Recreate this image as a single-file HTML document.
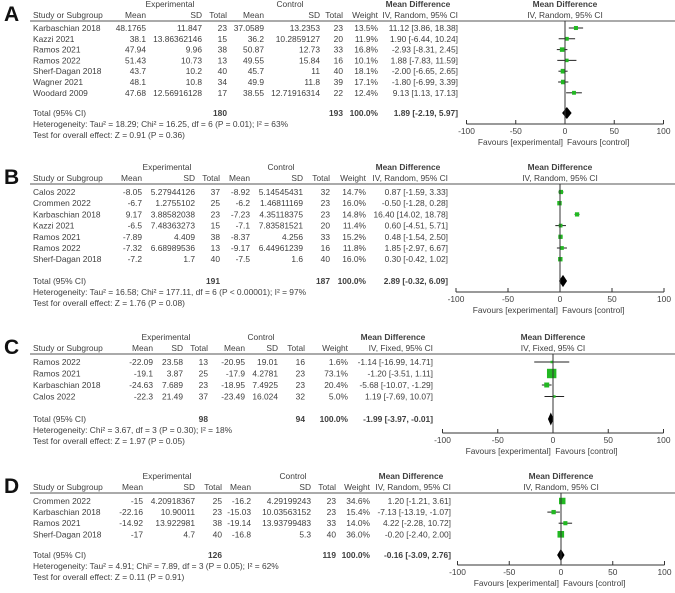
<!DOCTYPE html>
<html><head><meta charset="utf-8">
<style>
html,body{margin:0;padding:0;background:#fff;}
svg{display:block;font-family:"Liberation Sans",Arial,sans-serif;}
text{fill:#404040;font-size:8.4px;}
</style></head>
<body>
<svg id="fig" width="675" height="593" viewBox="0 0 675 593"></svg>
<script>
// ---------- DATA ----------
const aStudies=["Karbaschian 2018","Kazzi 2021","Ramos 2021","Ramos 2022","Sherf-Dagan 2018","Wagner 2021","Woodard 2009"];
const aEMean=["48.1765","38.1","47.94","51.43","43.7","48.1","47.68"];
const aESD=["11.847","13.86362146","9.96","10.73","10.2","10.8","12.56916128"];
const aEN=[23,15,38,13,40,34,17];
const aCMean=["37.0589","36.2","50.87","49.55","45.7","49.9","38.55"];
const aCSD=["13.2353","10.2859127","12.73","15.84","11","11.8","12.71916314"];
const aCN=[23,20,33,16,40,39,22];
const aWeight=[13.5,11.9,16.8,10.1,18.1,17.1,12.4];
const aMD=[11.12,1.90,-2.93,1.88,-2.00,-1.80,9.13];
const aLo=[3.86,-6.44,-8.31,-7.83,-6.65,-6.99,1.13];
const aHi=[18.38,10.24,2.45,11.59,2.65,3.39,17.13];
const aTotal=[1.89,-2.19,5.97];

const bStudies=["Calos 2022","Crommen 2022","Karbaschian 2018","Kazzi 2021","Ramos 2021","Ramos 2022","Sherf-Dagan 2018"];
const bEMean=["-8.05","-6.7","9.17","-6.5","-7.89","-7.32","-7.2"];
const bESD=["5.27944126","1.2755102","3.88582038","7.48363273","4.409","6.68989536","1.7"];
const bEN=[37,25,23,15,38,13,40];
const bCMean=["-8.92","-6.2","-7.23","-7.1","-8.37","-9.17","-7.5"];
const bCSD=["5.14545431","1.46811169","4.35118375","7.83581521","4.256","6.44961239","1.6"];
const bCN=[32,23,23,20,33,16,40];
const bWeight=[14.7,16.0,14.8,11.4,15.2,11.8,16.0];
const bMD=[0.87,-0.50,16.40,0.60,0.48,1.85,0.30];
const bLo=[-1.59,-1.28,14.02,-4.51,-1.54,-2.97,-0.42];
const bHi=[3.33,0.28,18.78,5.71,2.50,6.67,1.02];
const bTotal=[2.89,-0.32,6.09];

const cStudies=["Ramos 2022","Ramos 2021","Karbaschian 2018","Calos 2022"];
const cEMean=["-22.09","-19.1","-24.63","-22.3"];
const cESD=["23.58","3.87","7.689","21.49"];
const cEN=[13,25,23,37];
const cCMean=["-20.95","-17.9","-18.95","-23.49"];
const cCSD=["19.01","4.2781","7.4925","16.024"];
const cCN=[16,23,23,32];
const cWeight=[1.6,73.1,20.4,5.0];
const cMD=[-1.14,-1.20,-5.68,1.19];
const cLo=[-16.99,-3.51,-10.07,-7.69];
const cHi=[14.71,1.11,-1.29,10.07];
const cTotal=[-1.99,-3.97,-0.01];

const dStudies=["Crommen 2022","Karbaschian 2018","Ramos 2021","Sherf-Dagan 2018"];
const dEMean=["-15","-22.16","-14.92","-17"];
const dESD=["4.20918367","10.90011","13.922981","4.7"];
const dEN=[25,23,38,40];
const dCMean=["-16.2","-15.03","-19.14","-16.8"];
const dCSD=["4.29199243","10.03563152","13.93799483","5.3"];
const dCN=[23,23,33,40];
const dWeight=[34.6,15.4,14.0,36.0];
const dMD=[1.20,-7.13,4.22,-0.20];
const dLo=[-1.21,-13.19,-2.28,-2.40];
const dHi=[3.61,-1.07,10.72,2.00];
const dTotal=[-0.16,-3.09,2.76];

const axisTicks=[-100,-50,0,50,100];

// ---------- RENDER ----------
const NS="http://www.w3.org/2000/svg";
const svg=document.getElementById('fig');
function mk(tag,attrs,parent){const e=document.createElementNS(NS,tag);for(const k in attrs)e.setAttribute(k,attrs[k]);(parent||svg).appendChild(e);return e;}
function txt(s,x,y,anchor,g,extra){const t=mk('text',Object.assign({x:x,y:y,'text-anchor':anchor||'start'},extra||{}),g);t.textContent=s;return t;}
function f2(v){return (v<0?'-':'')+Math.abs(v).toFixed(2);}

function panel(letter,top,rows,cols,ax,d,method,tot){
  const g=mk('g',{});
  
  
  const L=txt(letter,4,top+21,'start',g,{style:'font-size:21px;font-weight:bold;fill:#111'});
  
  
  const h1=top+7,h2=top+18,ul=top+21;
  txt('Experimental',cols.expC,h1,'middle',g);
  txt('Control',cols.ctlC,h1,'middle',g);
  txt('Mean Difference',cols.md-40,h1,'middle',g,{style:'font-weight:bold'});
  txt('Mean Difference',ax.zero,h1,'middle',g,{style:'font-weight:bold'});
  txt('Study or Subgroup',33,h2,'start',g);
  txt('Mean',cols.em,h2,'end',g);txt('SD',cols.es,h2,'end',g);txt('Total',cols.en,h2,'end',g);
  txt('Mean',cols.cm,h2,'end',g);txt('SD',cols.cs,h2,'end',g);txt('Total',cols.cn,h2,'end',g);
  txt('Weight',cols.w,h2,'end',g);
  txt(method,cols.md,h2,'end',g);
  txt(method,ax.zero,h2,'middle',g);
  mk('line',{x1:30,x2:675,y1:ul,y2:ul,stroke:'#555','stroke-width':1},g);
  const X=v=>ax.zero+v*(ax.half/100);
  const ry=i=>top+rows.first+i*rows.step;
  d.studies.forEach((s,i)=>{
    const y=ry(i);
    const t=txt(s,33,y,'start',g);
    
    
    txt(d.em[i],cols.em,y,'end',g);txt(d.es[i],cols.es,y,'end',g);txt(String(d.en[i]),cols.en,y,'end',g);
    txt(d.cm[i],cols.cm,y,'end',g);txt(d.cs[i],cols.cs,y,'end',g);txt(String(d.cn[i]),cols.cn,y,'end',g);
    txt(d.w[i].toFixed(1)+'%',cols.w,y,'end',g);
    txt(f2(d.md[i])+' ['+f2(d.lo[i])+', '+f2(d.hi[i])+']',cols.md,y,'end',g);
    const cy=y-3;
    const ci=mk('line',{x1:X(d.lo[i]),x2:X(d.hi[i]),y1:cy,y2:cy,stroke:'#222','stroke-width':1},g);
    
    
    const sz=Math.max(2.5,1.1*Math.sqrt(d.w[i]));
    const sq=mk('rect',{x:X(d.md[i])-sz/2,y:cy-sz/2,width:sz,height:sz,fill:'#22b822'},g);
    
    
  });
  const ty=top+rows.total;
  txt('Total (95% CI)',33,ty,'start',g);
  txt(String(d.enT),cols.en,ty,'end',g,{style:'font-weight:bold'});
  txt(String(d.cnT),cols.cn,ty,'end',g,{style:'font-weight:bold'});
  txt('100.0%',cols.w,ty,'end',g,{style:'font-weight:bold'});
  txt(f2(tot[0])+' ['+f2(tot[1])+', '+f2(tot[2])+']',cols.md,ty,'end',g,{style:'font-weight:bold'});
  txt(d.het,33,ty+11,'start',g);
  txt(d.test,33,ty+22,'start',g);
  const dy=ty-3;
  const dm=mk('polygon',{points:[X(tot[1])+','+dy,X(tot[0])+','+(dy-5),X(tot[2])+','+dy,X(tot[0])+','+(dy+5)].join(' '),fill:'#000',stroke:'#000','stroke-width':1.2},g);
  
  
  mk('line',{x1:X(0),x2:X(0),y1:ul,y2:top+ax.y,stroke:'#333','stroke-width':1},g);
  const axl=mk('line',{x1:X(-100),x2:X(100),y1:top+ax.y,y2:top+ax.y,stroke:'#333','stroke-width':1},g);
  
  
  axisTicks.forEach(v=>{
    mk('line',{x1:X(v),x2:X(v),y1:top+ax.y-4,y2:top+ax.y,stroke:'#333','stroke-width':1},g);
    const tl=txt(String(v),X(v),top+ax.y+10,'middle',g);
    
    
  });
  txt('Favours [experimental]',X(-2),top+ax.y+21,'end',g);
  txt('Favours [control]',X(2),top+ax.y+21,'start',g);
}

panel('A',0,{first:31,step:10.8,total:116},
  {expC:170,ctlC:290,em:146,es:202,en:227,cm:264,cs:320,cn:343,w:378,md:458},
  {zero:565,half:98.5,y:124},
  {studies:aStudies,em:aEMean,es:aESD,en:aEN,cm:aCMean,cs:aCSD,cn:aCN,w:aWeight,md:aMD,lo:aLo,hi:aHi,enT:180,cnT:193,
   het:'Heterogeneity: Tau\u00b2 = 18.29; Chi\u00b2 = 16.25, df = 6 (P = 0.01); I\u00b2 = 63%',test:'Test for overall effect: Z = 0.91 (P = 0.36)'},
  'IV, Random, 95% CI',aTotal);

panel('B',163,{first:32,step:11.2,total:121},
  {expC:167,ctlC:281,em:142,es:195,en:220,cm:250,cs:303,cn:330,w:366,md:448},
  {zero:560,half:104,y:129},
  {studies:bStudies,em:bEMean,es:bESD,en:bEN,cm:bCMean,cs:bCSD,cn:bCN,w:bWeight,md:bMD,lo:bLo,hi:bHi,enT:191,cnT:187,
   het:'Heterogeneity: Tau\u00b2 = 16.58; Chi\u00b2 = 177.11, df = 6 (P < 0.00001); I\u00b2 = 97%',test:'Test for overall effect: Z = 1.76 (P = 0.08)'},
  'IV, Random, 95% CI',bTotal);

panel('C',333,{first:32,step:11.5,total:89},
  {expC:166,ctlC:261,em:153,es:183,en:208,cm:245,cs:278,cn:305,w:348,md:433},
  {zero:553,half:110.5,y:100},
  {studies:cStudies,em:cEMean,es:cESD,en:cEN,cm:cCMean,cs:cCSD,cn:cCN,w:cWeight,md:cMD,lo:cLo,hi:cHi,enT:98,cnT:94,
   het:'Heterogeneity: Chi\u00b2 = 3.67, df = 3 (P = 0.30); I\u00b2 = 18%',test:'Test for overall effect: Z = 1.97 (P = 0.05)'},
  'IV, Fixed, 95% CI',cTotal);

panel('D',472,{first:32,step:11.1,total:86},
  {expC:167,ctlC:293,em:143,es:195,en:222,cm:251,cs:311,cn:336,w:370,md:451},
  {zero:561,half:103.5,y:93},
  {studies:dStudies,em:dEMean,es:dESD,en:dEN,cm:dCMean,cs:dCSD,cn:dCN,w:dWeight,md:dMD,lo:dLo,hi:dHi,enT:126,cnT:119,
   het:'Heterogeneity: Tau\u00b2 = 4.91; Chi\u00b2 = 7.89, df = 3 (P = 0.05); I\u00b2 = 62%',test:'Test for overall effect: Z = 0.11 (P = 0.91)'},
  'IV, Random, 95% CI',dTotal);
</script>
</body></html>
